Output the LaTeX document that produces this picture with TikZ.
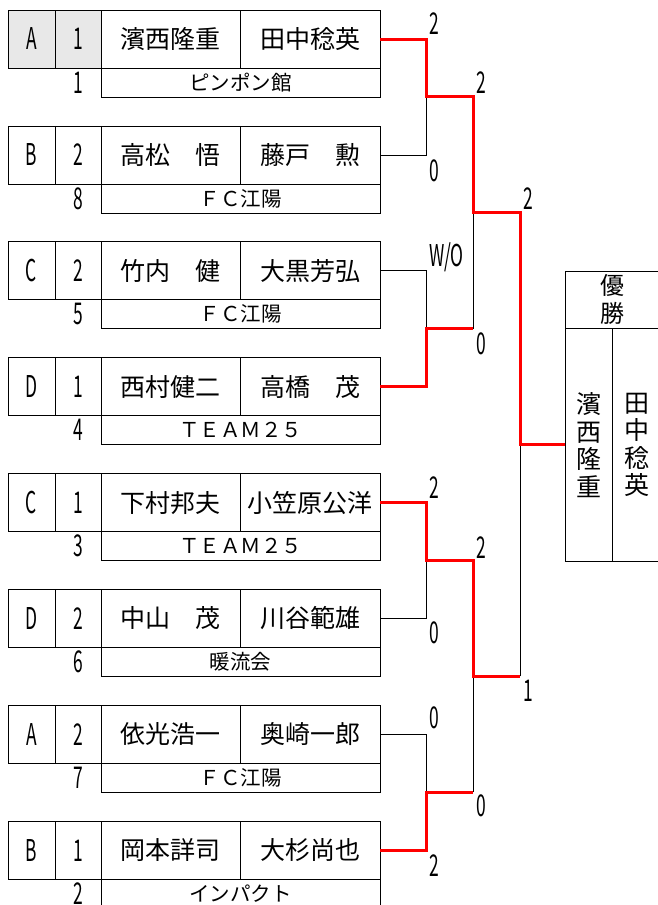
\documentclass[tikz,border=0pt]{standalone}
\usepackage{fontspec}
\setmainfont{Noto Sans CJK JP}
\newfontfamily\narrowfont[FakeStretch=0.58]{Noto Sans CJK JP}
\begin{document}
\begin{tikzpicture}[x=1pt,y=-1pt,line width=0.8pt,
    win/.style={red,line width=3pt},
    namefont/.style={font=\fontsize{25}{27.5}\selectfont},
    clubfont/.style={font=\fontsize{20.5}{22}\selectfont},
    digit/.style={font=\narrowfont\fontsize{30}{30}\selectfont},
    score/.style={digit,anchor=west,inner sep=0pt}]
  \useasboundingbox (0,0) rectangle (658,905);
  \fill[black!9] (8,10) rectangle (101,68);
  \foreach \i/\grp/\seed/\na/\nb/\pos/\club in {
      0/A/1/濱西隆重/田中稔英/1/ピンポン館,
      1/B/2/高松　悟/藤戸　勲/8/ＦＣ江陽,
      2/C/2/竹内　健/大黒芳弘/5/ＦＣ江陽,
      3/D/1/西村健二/高橋　茂/4/ＴＥＡＭ２５,
      4/C/1/下村邦夫/小笠原公洋/3/ＴＥＡＭ２５,
      5/D/2/中山　茂/川谷範雄/6/暖流会,
      6/A/2/依光浩一/奥崎一郎/7/ＦＣ江陽,
      7/B/1/岡本詳司/大杉尚也/2/インパクト} {
    \pgfmathsetmacro{\ty}{10+115.9*\i}
    \draw (8,\ty) rectangle (380,\ty+58);
    \draw (55,\ty) -- (55,\ty+58) (101,\ty) -- (101,\ty+58) (240,\ty) -- (240,\ty+58);
    \draw (101,\ty+58) rectangle (380,\ty+87);
    \node[digit] (g\i) at (31.5,\ty+29) {\grp};
    \node[digit] (s\i) at (78,\ty+29) {\seed};
    \node[namefont] (na\i) at (170.5,\ty+29) {\na};
    \node[namefont] (nb\i) at (310,\ty+29) {\nb};
    \node[digit] (p\i) at (78,\ty+72.5) {\pos};
    \node[clubfont] (c\i) at (240.5,\ty+72.5) {\club};
    \coordinate (e\i) at (380,\ty+29);
  }
  \coordinate (ma) at (426,96.95);
  \coordinate (mb) at (426,328.75);
  \coordinate (mc) at (426,560.55);
  \coordinate (md) at (426,792.35);
  \coordinate (sa) at (473,212.85);
  \coordinate (sb) at (473,676.45);
  \coordinate (fin) at (520,444.65);
  \coordinate (champ) at (565,444.65);
  \draw (565,271.7) rectangle (662,561);
  \draw (565,328) -- (662,328) (612,328) -- (612,561);
  \node[font=\fontsize{24}{28}\selectfont,align=center] (yusho) at (612,299) {優\\勝};
  \node[namefont,align=center] (wa) at (589,445) {濱\\西\\隆\\重};
  \node[namefont,align=center] (wb) at (637,445) {田\\中\\稔\\英};
  \draw (e1) -| (ma);
  \draw (e2) -| (mb);
  \draw (mb -| sa) -- (sa);
  \draw (e5) -| (mc);
  \draw (e6) -| (md);
  \draw (md -| sb) -- (sb);
  \draw (sb -| fin) -- (fin);
  \draw[win] (e0) -| (ma) -| (sa) -| (fin) -- (champ);
  \draw[win] (e3) -| (mb) -- (mb -| sa);
  \draw[win] (e4) -| (mc) -| (sb) -- (sb -| fin);
  \draw[win] (e7) -| (md) -- (md -| sb);
  \node[score] (k0) at (429,24) {2};
  \node[score] (k1) at (429,171) {0};
  \node[score] (k2) at (429,257) {W/O};
  \node[score] (k3) at (476,83) {2};
  \node[score] (k4) at (476,344) {0};
  \node[score] (k5) at (523,199) {2};
  \node[score] (k6) at (429,488) {2};
  \node[score] (k7) at (429,633) {0};
  \node[score] (k8) at (476,548) {2};
  \node[score] (k9) at (523,691) {1};
  \node[score] (k10) at (429,718) {0};
  \node[score] (k11) at (429,866) {2};
  \node[score] (k12) at (476,806) {0};
\end{tikzpicture}
\end{document}
